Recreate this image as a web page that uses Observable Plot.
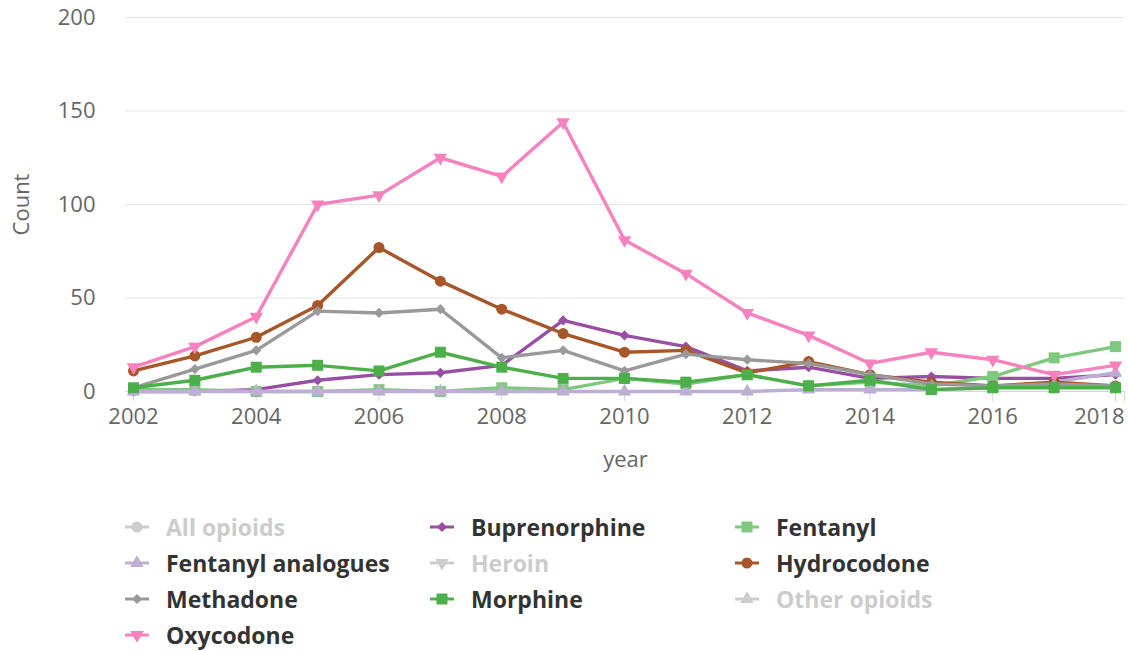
<!DOCTYPE html>
<html>
<head>
<meta charset="utf-8">
<script src="https://cdn.jsdelivr.net/npm/d3@7"></script>
<script src="https://cdn.jsdelivr.net/npm/@observablehq/plot@0.6"></script>
<style>
  html, body { margin: 0; padding: 0; background: #fff; }
  body { width: 1128px; height: 651px; overflow: hidden; font-family: "Open Sans", sans-serif; }
  #chart svg { display: block; }
  #legend {
    display: grid;
    grid-template-columns: 305px 305px 305px;
    margin-left: 124px;
    margin-top: 9px;
  }
  .item { display: flex; align-items: center; height: 36px; line-height: 26px; font-weight: 700; font-size: 23px; color: #333; white-space: nowrap; }
  .item.hidden { color: #cccccc; }
  .item svg { width: 26px; height: 14px; margin-right: 16px; flex: none; }
</style>
</head>
<body>
<div id="chart"></div>
<div id="legend"></div>
<script>
// ---- data ----
const years = [2002, 2003, 2004, 2005, 2006, 2007, 2008, 2009, 2010, 2011, 2012, 2013, 2014, 2015, 2016, 2017, 2018];
const xTicks = [2002, 2004, 2006, 2008, 2010, 2012, 2014, 2016, 2018];
const yTicks = [0, 50, 100, 150, 200];

const seriesNames   = ["All opioids", "Buprenorphine", "Fentanyl", "Fentanyl analogues", "Heroin", "Hydrocodone", "Methadone", "Morphine", "Other opioids", "Oxycodone"];
const seriesColors  = ["#cccccc", "#984ea3", "#7fc97f", "#beaed4", "#cccccc", "#a65628", "#999999", "#4daf4a", "#cccccc", "#f781bf"];
const seriesSymbols = ["circle", "diamond", "square", "triangle", "triangle-down", "circle", "diamond", "square", "triangle", "triangle-down"];
const seriesVisible = [false, true, true, true, false, true, true, true, false, true];

const buprenorphine     = [0, 0, 1, 6, 9, 10, 14, 38, 30, 24, 11, 13, 7, 8, 7, 7, 9];
const fentanyl          = [1, 1, 0, 0, 1, 0, 2, 1, 7, 4, 9, 3, 5, 3, 8, 18, 24];
const fentanylAnalogues = [0, 0, 0, 0, 0, 0, 0, 0, 0, 0, 0, 1, 1, 1, 2, 5, 10];
const hydrocodone       = [11, 19, 29, 46, 77, 59, 44, 31, 21, 22, 10, 16, 9, 5, 3, 5, 3];
const methadone         = [2, 12, 22, 43, 42, 44, 18, 22, 11, 20, 17, 15, 9, 4, 3, 4, 3];
const morphine          = [2, 6, 13, 14, 11, 21, 13, 7, 7, 5, 9, 3, 6, 1, 2, 2, 2];
const oxycodone         = [13, 24, 40, 100, 105, 125, 115, 144, 81, 63, 42, 30, 15, 21, 17, 9, 14];

const seriesValues = {
  "Buprenorphine": buprenorphine,
  "Fentanyl": fentanyl,
  "Fentanyl analogues": fentanylAnalogues,
  "Hydrocodone": hydrocodone,
  "Methadone": methadone,
  "Morphine": morphine,
  "Oxycodone": oxycodone
};

// ---- marker styles (Plot symbol, radius, rotation) ----
const symbolStyle = {
  "circle":        {symbol: "circle",   r: 5.5, rotate: 0},
  "diamond":       {symbol: "diamond2", r: 4.6, rotate: 0},
  "square":        {symbol: "square",   r: 6.2, rotate: 0},
  "triangle":      {symbol: "triangle", r: 5,   rotate: 0},
  "triangle-down": {symbol: "triangle", r: 5,   rotate: 180}
};

const lastTick = xTicks[xTicks.length - 1];

// ---- chart ----
const marks = [
  Plot.gridY({ticks: yTicks.filter(d => d > 0), stroke: "#e6e6e6", strokeOpacity: 1}),
  Plot.ruleY([0], {stroke: "#ccd6eb", strokeWidth: 1}),
  Plot.axisY({ticks: yTicks, tickSize: 0, tickPadding: 30, fontSize: 22, fill: "#666666",
    label: "Count", labelAnchor: "center", labelArrow: "none", labelOffset: 112}),
  Plot.axisX({ticks: xTicks, tickSize: 10, tickPadding: 7, stroke: "#ccd6eb", fill: "#666666", fontSize: 22,
    tickFormat: d => (d === lastTick ? "" : String(d)), label: "year", labelAnchor: "center", labelArrow: "none", labelOffset: 75}),
  // last label kept inside the frame, as in the reference
  Plot.axisX({ticks: [lastTick], tickSize: 10, tickPadding: 7, stroke: "#ccd6eb", fill: "#666666", fontSize: 22,
    textAnchor: "end", dx: 9, tickFormat: d => String(d), label: null})
];

seriesNames.forEach((name, i) => {
  if (!seriesVisible[i]) return;
  const vals = seriesValues[name];
  const rows = years.map((y, j) => ({year: y, count: vals[j]}));
  const st = symbolStyle[seriesSymbols[i]];
  marks.push(Plot.line(rows, {x: "year", y: "count", stroke: seriesColors[i], strokeWidth: 3.4, strokeLinejoin: "round", strokeLinecap: "round"}));
  marks.push(Plot.dot(rows, {x: "year", y: "count", symbol: st.symbol, r: st.r, rotate: st.rotate, fill: seriesColors[i], stroke: "none"}));
});

const chart = Plot.plot({
  width: 1128,
  height: 500,
  marginTop: 17,
  marginBottom: 109,
  marginLeft: 125,
  marginRight: 3,
  style: {fontFamily: "'Open Sans', sans-serif", background: "#fff", overflow: "visible"},
  x: {domain: [2002, 2018], insetLeft: 8, insetRight: 10},
  y: {domain: [0, 200]},
  marks
});
document.getElementById("chart").appendChild(chart);

// ---- legend ----
const legend = d3.select("#legend");
seriesNames.forEach((name, i) => {
  const item = legend.append("div").attr("class", "item" + (seriesVisible[i] ? "" : " hidden"));
  const svg = item.append("svg").attr("viewBox", "0 0 26 14");
  const st = symbolStyle[seriesSymbols[i]];
  const symType = {circle: d3.symbolCircle, diamond2: d3.symbolDiamond2, square: d3.symbolSquare, triangle: d3.symbolTriangle}[st.symbol];
  svg.append("line").attr("x1", 1).attr("x2", 25).attr("y1", 7).attr("y2", 7)
    .attr("stroke", seriesColors[i]).attr("stroke-width", 3);
  svg.append("path").attr("d", d3.symbol(symType, Math.PI * st.r * st.r)())
    .attr("transform", `translate(13,7) rotate(${st.rotate})`)
    .attr("fill", seriesColors[i]);
  item.append("span").text(name);
});
</script>
</body>
</html>
